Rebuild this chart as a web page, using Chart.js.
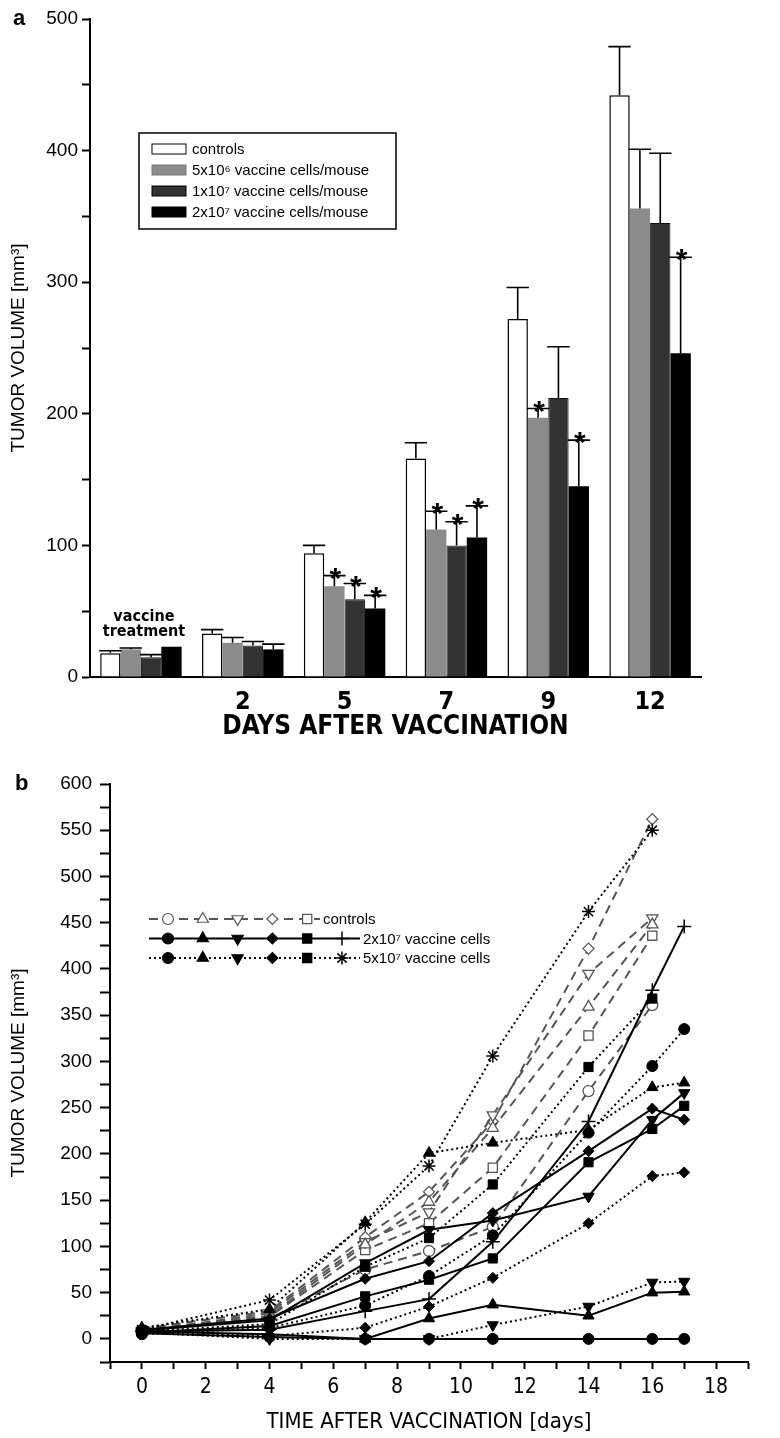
<!DOCTYPE html>
<html>
<head>
<meta charset="utf-8">
<script src="https://cdn.jsdelivr.net/npm/chart.js@4.4.0/dist/chart.umd.min.js"></script>
<style>
  body { margin: 0; background: #fff; }
  #wrapA { position: absolute; left: 0; top: 0; width: 780px; height: 750px; }
  #wrapB { position: absolute; left: 0; top: 750px; width: 780px; height: 688px; }
</style>
</head>
<body>
<div id="wrapA"><canvas id="chartA" width="780" height="750"></canvas></div>
<div id="wrapB"><canvas id="chartB" width="780" height="688"></canvas></div>
<script>
// ---- panel a: mean tumour volume per group ----
const dayLabels = ['', '2', '5', '7', '9', '12'];
const controls    = [18, 33, 94, 166, 272, 442];
const controlsErr = [20, 36, 100, 178, 296, 479];
const low         = [21, 26, 69, 112, 197, 356];   // 5x10^6
const lowErr      = [22, 30, 77, 126, 204, 401];
const mid         = [15, 24, 59, 100, 212, 345];   // 1x10^7
const midErr      = [17, 27, 71, 118, 251, 398];
const high        = [23, 21, 52, 106, 145, 246];   // 2x10^7
const highErr     = [23, 25, 62, 130, 180, 319];
const noStars   = [0, 0, 0, 0, 0, 0];
const lowStars  = [0, 0, 1, 1, 1, 0];
const midStars  = [0, 0, 1, 1, 0, 0];
const highStars = [0, 0, 1, 1, 1, 1];

// ---- panel b: single animals ----
const days = [0, 4, 7, 9, 11, 14, 16, 17];
const ctrlCircle   = [9, 22, 75, 95, 121, 268, 361, null];
const ctrlTriUp    = [10, 25, 102, 148, 228, 359, 448, null];
const ctrlTriDown  = [8, 28, 105, 137, 242, 395, 455, null];
const ctrlDiamond  = [11, 30, 110, 159, 235, 422, 562, null];
const ctrlSquare   = [9, 24, 96, 125, 185, 328, 436, null];
const solCircle    = [6, 2, 0, 0, 0, 0, 0, 0];
const solTriUp     = [8, 5, 0, 22, 37, 25, 50, 51];
const solTriDown   = [9, 20, 82, 118, 128, 154, 237, 266];
const solDiamond   = [10, 22, 65, 84, 136, 203, 249, 237];
const solSquare    = [7, 14, 46, 64, 87, 191, 227, 252];
const solPlus      = [8, 10, 30, 43, 105, 235, 377, 446];
const dotCircle    = [5, 12, 36, 68, 112, 223, 295, 335];
const dotTriUp     = [12, 32, 126, 201, 212, 226, 272, 277];
const dotTriDown   = [7, 0, 0, 0, 15, 35, 61, 62];
const dotDiamond   = [9, 3, 12, 35, 66, 125, 176, 180];
const dotSquare    = [8, 16, 78, 109, 167, 294, 368, null];
const dotStar      = [10, 42, 124, 187, 306, 462, 550, null];

const sans = '"Liberation Sans", Arial, Helvetica, sans-serif';
const narrow = '"Liberation Sans Narrow", "DejaVu Sans Condensed", "Liberation Sans", sans-serif';
Chart.defaults.font.family = sans;
Chart.defaults.color = '#000';

// error bars + asterisks + legend for panel a
const panelA = {
	id: 'panelA',
	afterDatasetsDraw(chart) {
		const ctx = chart.ctx;
		const yS = chart.scales.y;
		ctx.save();
		ctx.strokeStyle = '#000';
		ctx.fillStyle = '#000';
		ctx.lineWidth = 1.6;
		chart.data.datasets.forEach((ds, i) => {
			chart.getDatasetMeta(i).data.forEach((bar, j) => {
				const top = yS.getPixelForValue(ds.errors[j]);
				if (ds.errors[j] > ds.data[j]) {
					ctx.beginPath();
					ctx.moveTo(bar.x, bar.y);
					ctx.lineTo(bar.x, top);
					ctx.moveTo(bar.x - bar.width / 2 - 1, top);
					ctx.lineTo(bar.x + bar.width / 2 + 1, top);
					ctx.stroke();
				}
				if (ds.stars[j]) {
					ctx.font = 'bold 30px ' + sans;
					ctx.textAlign = 'center';
					ctx.textBaseline = 'alphabetic';
					ctx.fillText('*', bar.x + 1, top + 12);
				}
			});
		});
		ctx.restore();
	},
	afterDraw(chart) {
		const ctx = chart.ctx;
		const xS = chart.scales.x, yS = chart.scales.y;
		ctx.save();
		// vaccine treatment note
		ctx.fillStyle = '#000';
		ctx.font = 'bold 16px ' + narrow;
		ctx.textAlign = 'center';
		ctx.textBaseline = 'middle';
		ctx.fillText('vaccine', xS.getPixelForValue(0) + 3, yS.getPixelForValue(46));
		ctx.fillText('treatment', xS.getPixelForValue(0) + 3, yS.getPixelForValue(34));
		// panel letter
		ctx.font = 'bold 22px ' + sans;
		ctx.textAlign = 'left';
		ctx.textBaseline = 'alphabetic';
		ctx.fillText('a', 13, 25);
		// legend
		ctx.lineWidth = 1.5;
		ctx.strokeStyle = '#000';
		ctx.strokeRect(139, 133, 257, 96);
		ctx.font = '15px ' + sans;
		ctx.textBaseline = 'middle';
		chart.data.datasets.forEach((ds, i) => {
			const y = 149 + i * 21;
			ctx.fillStyle = ds.backgroundColor;
			ctx.fillRect(152, y - 5, 34, 10);
			ctx.lineWidth = 1;
			ctx.strokeStyle = i === 1 ? '#777' : '#000';
			ctx.strokeRect(152, y - 5, 34, 10);
			ctx.fillStyle = '#000';
			ctx.fillText(ds.label, 192, y + 1);
		});
		ctx.restore();
	}
};

new Chart(document.getElementById('chartA').getContext('2d'), {
	type: 'bar',
	data: {
		labels: dayLabels,
		datasets: [
			{ label: 'controls', data: controls, errors: controlsErr, stars: noStars,
			  backgroundColor: '#ffffff', borderColor: '#000', borderWidth: 1.5 },
			{ label: '5x10\u2076 vaccine cells/mouse', data: low, errors: lowErr, stars: lowStars,
			  backgroundColor: '#8c8c8c', borderColor: '#8c8c8c', borderWidth: 0 },
			{ label: '1x10\u2077 vaccine cells/mouse', data: mid, errors: midErr, stars: midStars,
			  backgroundColor: '#333333', borderColor: '#111', borderWidth: 1 },
			{ label: '2x10\u2077 vaccine cells/mouse', data: high, errors: highErr, stars: highStars,
			  backgroundColor: '#000000', borderColor: '#000', borderWidth: 0 }
		]
	},
	options: {
		responsive: false,
		animation: false,
		categoryPercentage: 0.8,
		barPercentage: 1.0,
		layout: { padding: { top: 19, right: 79, left: 0, bottom: 0 } },
		plugins: { legend: { display: false }, tooltip: { enabled: false } },
		scales: {
			x: {
				grid: { display: true, drawOnChartArea: false, drawTicks: false },
				border: { color: '#000', width: 2 },
				ticks: { font: { family: narrow, size: 25, weight: 'bold' }, color: '#000', padding: 10 },
				title: { display: true, text: 'DAYS AFTER VACCINATION', color: '#000',
				         font: { family: narrow, size: 26, weight: 'bold' }, padding: { top: 0, bottom: 7 } },
				afterFit: s => { s.height = 73; }
			},
			y: {
				min: 0, max: 500,
				ticks: { stepSize: 50, autoSkip: false, font: { size: 19 }, color: '#000', padding: 4,
				         callback: v => (v % 100 === 0 ? v : '') },
				grid: { drawOnChartArea: false, drawTicks: true, tickLength: 8, tickColor: '#000', tickWidth: 2 },
				border: { color: '#000', width: 2 },
				title: { display: true, text: 'TUMOR VOLUME [mm\u00b3]', color: '#000',
				         font: { size: 19 }, padding: { top: 7, bottom: 0 } },
				afterFit: s => { s.width = 90; }
			}
		}
	},
	plugins: [panelA]
});

// ---- panel b ----
const pts = arr => days.map((d, i) => ({ x: d, y: arr[i] })).filter(p => p.y !== null);

const GREY = '#555555';
const dashCtrl = [9, 6];
const dashDot = [2, 3];

function markSize(style) {
	if (style === 'rect') return 6.5;
	if (style === 'cross') return 7;
	if (style === 'star') return 6.5;
	if (style === 'triangle') return 6.5;
	return 5.5;
}
function ctrl(arr, style, rot) {
	return { data: pts(arr), borderColor: GREY, borderWidth: 2, borderDash: dashCtrl,
		pointStyle: style, pointRotation: rot || 0, pointRadius: markSize(style),
		pointBackgroundColor: '#fff', pointBorderColor: GREY, pointBorderWidth: 1.3 };
}
function solid(arr, style, rot) {
	return { data: pts(arr), borderColor: '#000', borderWidth: 2,
		pointStyle: style, pointRotation: rot || 0, pointRadius: markSize(style),
		pointBackgroundColor: '#000', pointBorderColor: '#000', pointBorderWidth: style === 'cross' ? 1.5 : 1 };
}
function dotted(arr, style, rot) {
	return { data: pts(arr), borderColor: '#000', borderWidth: 2, borderDash: dashDot,
		pointStyle: style, pointRotation: rot || 0, pointRadius: markSize(style),
		pointBackgroundColor: '#000', pointBorderColor: '#000', pointBorderWidth: style === 'star' ? 1.5 : 1 };
}

const legendB = [
	{ text: 'controls', dash: dashCtrl, color: GREY, fill: '#fff', end: 320,
	  marks: [['circle', 0], ['triangle', 0], ['triangle', 180], ['rectRot', 0], ['rect', 0]] },
	{ text: '2x10\u2077 vaccine cells', dash: [], color: '#000', fill: '#000', end: 360,
	  marks: [['circle', 0], ['triangle', 0], ['triangle', 180], ['rectRot', 0], ['rect', 0], ['cross', 0]] },
	{ text: '5x10\u2077 vaccine cells', dash: dashDot, color: '#000', fill: '#000', end: 360,
	  marks: [['circle', 0], ['triangle', 0], ['triangle', 180], ['rectRot', 0], ['rect', 0], ['star', 0]] }
];

const panelB = {
	id: 'panelB',
	afterDraw(chart) {
		const ctx = chart.ctx;
		ctx.save();
		ctx.fillStyle = '#000';
		ctx.font = 'bold 22px ' + sans;
		ctx.textBaseline = 'alphabetic';
		ctx.fillText('b', 15, 40);
		legendB.forEach((row, i) => {
			const y = 169 + i * 19.5;
			ctx.strokeStyle = row.color;
			ctx.lineWidth = 2;
			ctx.setLineDash(row.dash);
			ctx.beginPath();
			ctx.moveTo(149, y);
			ctx.lineTo(row.end, y);
			ctx.stroke();
			ctx.setLineDash([]);
			row.marks.forEach((m, k) => {
				const x = 168 + k * 34.8;
				ctx.fillStyle = row.fill;
				ctx.strokeStyle = row.color;
				ctx.lineWidth = (m[0] === 'cross' || m[0] === 'star') ? 1.5 : 1.2;
				Chart.helpers.drawPoint(ctx, { pointStyle: m[0], rotation: m[1], radius: markSize(m[0]), borderWidth: ctx.lineWidth }, x, y);
			});
			ctx.fillStyle = '#000';
			ctx.font = '15px ' + sans;
			ctx.textBaseline = 'middle';
			ctx.fillText(row.text, row.end + 3, y + 1);
		});
		ctx.restore();
	}
};

new Chart(document.getElementById('chartB').getContext('2d'), {
	type: 'line',
	data: {
		datasets: [
			solid(solCircle, 'circle'), solid(solTriUp, 'triangle'), solid(solTriDown, 'triangle', 180),
			solid(solDiamond, 'rectRot'), solid(solSquare, 'rect'), solid(solPlus, 'cross'),
			dotted(dotCircle, 'circle'), dotted(dotTriUp, 'triangle'), dotted(dotTriDown, 'triangle', 180),
			dotted(dotDiamond, 'rectRot'), dotted(dotSquare, 'rect'), dotted(dotStar, 'star'),
			ctrl(ctrlCircle, 'circle'), ctrl(ctrlTriUp, 'triangle'), ctrl(ctrlTriDown, 'triangle', 180),
			ctrl(ctrlDiamond, 'rectRot'), ctrl(ctrlSquare, 'rect')
		]
	},
	options: {
		responsive: false,
		animation: false,
		layout: { padding: { top: 34, right: 32, left: 0, bottom: 0 } },
		plugins: { legend: { display: false }, tooltip: { enabled: false } },
		scales: {
			x: {
				type: 'linear', min: -1, max: 19,
				ticks: { stepSize: 1, autoSkip: false, font: { family: narrow, size: 21 }, color: '#000', padding: 6,
				         callback: v => (v % 2 === 0 ? v : '') },
				grid: { drawOnChartArea: false, drawTicks: true, tickLength: 7, tickColor: '#000', tickWidth: 2 },
				border: { color: '#000', width: 2 },
				title: { display: true, text: 'TIME AFTER VACCINATION [days]', color: '#000',
				         font: { family: narrow, size: 22 }, padding: { top: 0, bottom: 3 } },
				afterFit: s => { s.height = 76; }
			},
			y: {
				min: -25, max: 600,
				ticks: { stepSize: 25, autoSkip: false, font: { size: 19 }, color: '#000', padding: 8,
				         callback: v => (v >= 0 && v % 50 === 0 ? v : '') },
				grid: { drawOnChartArea: false, drawTicks: true, tickLength: 10, tickColor: '#000', tickWidth: 2 },
				border: { color: '#000', width: 2 },
				title: { display: true, text: 'TUMOR VOLUME [mm\u00b3]', color: '#000',
				         font: { size: 19 }, padding: { top: 7, bottom: 0 } },
				afterFit: s => { s.width = 110; }
			}
		}
	},
	plugins: [panelB]
});
</script>
</body>
</html>
